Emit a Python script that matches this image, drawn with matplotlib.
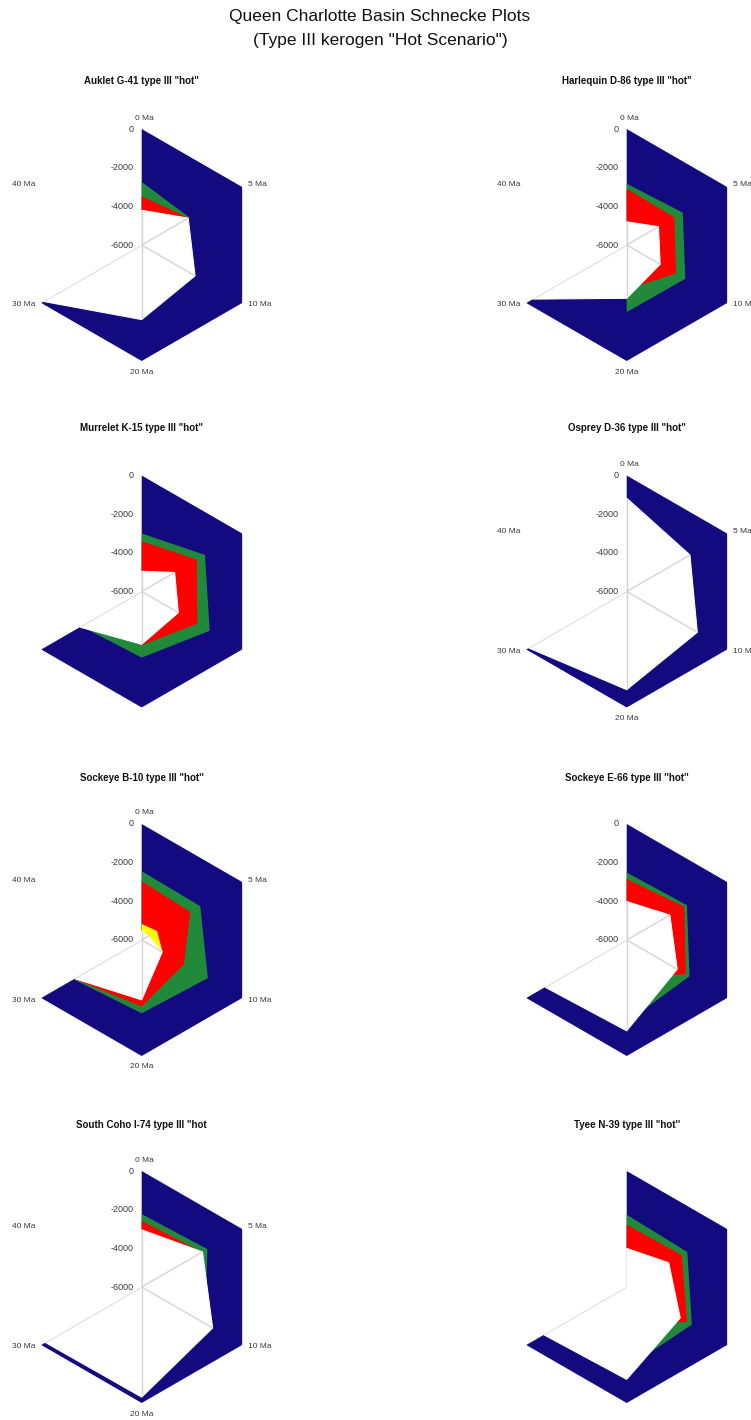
import matplotlib
matplotlib.use("Agg")
import matplotlib.pyplot as plt
import numpy as np

plt.rcParams["font.family"] = ["Liberation Sans", "DejaVu Sans"]

# ---------------------------------------------------------------- data
AGES = ["0 Ma", "5 Ma", "10 Ma", "20 Ma", "30 Ma", "40 Ma"]
DEPTH_TICKS = [0, -2000, -4000, -6000]
DEPTH_MIN, DEPTH_MAX = -6000, 0

TITLES = [
    'Auklet G-41 type III "hot"',
    'Harlequin D-86 type III "hot"',
    'Murrelet K-15 type III "hot"',
    'Osprey D-36 type III "hot"',
    "Sockeye B-10 type III \"hot''",
    "Sockeye E-66 type III ''hot''",
    'South Coho I-74 type III "hot',
    "Tyee N-39 type III \"hot''",
]

# depth (m) of each boundary at 0, 5, 10, 20, 30, 40 Ma
AUKLET_BLUE = [0, 0, 0, 0, 0, -6000]
AUKLET_GREEN = [-2740, -3150, -6000, -6000, -6000, -6000]
AUKLET_RED = [-3480, -3200, -6000, -6000, -6000, -6000]
AUKLET_WHITE = [-4200, -3220, -2810, -2140, -150, -6000]

HARLEQUIN_BLUE = [0, 0, 0, 0, 0, -6000]
HARLEQUIN_GREEN = [-2830, -2650, -2500, -2530, -6000, -6000]
HARLEQUIN_RED = [-3090, -3150, -3060, -3700, -6000, -6000]
HARLEQUIN_WHITE = [-4800, -4100, -4000, -3240, -400, -6000]

MURRELET_BLUE = [0, 0, 0, 0, 0, -6000]
MURRELET_GREEN = [-3000, -2220, -1940, -2580, -2400, -6000]
MURRELET_RED = [-3400, -2700, -2680, -3220, -6000, -6000]
MURRELET_WHITE = [-4950, -4030, -3810, -3266, -2310, -6000]

OSPREY_BLUE = [0, 0, 0, 0, 0, -6000]
OSPREY_WHITE = [-1170, -2220, -1780, -920, -150, -6000]

SOCKEYE_B10_BLUE = [0, 0, 0, 0, 0, -6000]
SOCKEYE_B10_GREEN = [-2440, -2500, -2050, -2210, -1930, -6000]
SOCKEYE_B10_RED = [-2960, -3100, -3480, -2560, -1970, -6000]
SOCKEYE_B10_YELLOW = [-5170, -5080, -4750, -6000, -6000, -6000]
SOCKEYE_B10_WHITE = [-5520, -5600, -4770, -2900, -2000, -6000]

SOCKEYE_E66_BLUE = [0, 0, 0, 0, 0, -6000]
SOCKEYE_E66_GREEN = [-2510, -2400, -2250, -1750, -6000, -6000]
SOCKEYE_E66_RED = [-2850, -2565, -2470, -4000, -6000, -6000]
SOCKEYE_E66_WHITE = [-4010, -3420, -2980, -1300, -1120, -6000]

SOUTH_COHO_BLUE = [0, 0, 0, 0, 0, -6000]
SOUTH_COHO_GREEN = [-2230, -2080, -2200, -6000, -6000, -6000]
SOUTH_COHO_RED = [-2580, -2400, -6000, -6000, -6000, -6000]
SOUTH_COHO_WHITE = [-3040, -2370, -1760, -300, -250, -6000]

TYEE_BLUE = [0, 0, 0, 0, 0, -6000]
TYEE_GREEN = [-2260, -2380, -2110, -1800, -6000, -6000]
TYEE_RED = [-2780, -2710, -2400, -4000, -6000, -6000]
TYEE_WHITE = [-4000, -3490, -2800, -1220, -1050, -6000]

WELLS = [
    {"blue": AUKLET_BLUE, "green": AUKLET_GREEN, "red": AUKLET_RED,
     "white": AUKLET_WHITE},
    {"blue": HARLEQUIN_BLUE, "green": HARLEQUIN_GREEN, "red": HARLEQUIN_RED,
     "white": HARLEQUIN_WHITE},
    {"blue": MURRELET_BLUE, "green": MURRELET_GREEN, "red": MURRELET_RED,
     "white": MURRELET_WHITE},
    {"blue": OSPREY_BLUE, "white": OSPREY_WHITE},
    {"blue": SOCKEYE_B10_BLUE, "green": SOCKEYE_B10_GREEN,
     "red": SOCKEYE_B10_RED, "yellow": SOCKEYE_B10_YELLOW,
     "white": SOCKEYE_B10_WHITE},
    {"blue": SOCKEYE_E66_BLUE, "green": SOCKEYE_E66_GREEN,
     "red": SOCKEYE_E66_RED, "white": SOCKEYE_E66_WHITE},
    {"blue": SOUTH_COHO_BLUE, "green": SOUTH_COHO_GREEN,
     "red": SOUTH_COHO_RED, "white": SOUTH_COHO_WHITE},
    {"blue": TYEE_BLUE, "green": TYEE_GREEN, "red": TYEE_RED,
     "white": TYEE_WHITE},
]

# ---------------------------------------------------------------- style
LAYER_ORDER = ["blue", "green", "red", "yellow", "white"]
LAYER_COLORS = {
    "blue": "#140a80",
    "green": "#21893a",
    "red": "#ff0000",
    "yellow": "#ffff00",
    "white": "#ffffff",
}
SPOKE_COLOR = "#d4d4d4"
LABEL_COLOR = "#3a3a3a"

FIG_W, FIG_H = 751, 1420
RADIUS = 116.0
COL_X = [141.7, 626.7]
ROW_Y = [245.0, 591.5, 940.0, 1287.0]
TITLE_BASELINE = [84, 431, 781, 1128]

SHOW_TICKS = [True, True, True, True, True, True, True, False]
SHOW_AGES = [True, True, False, True, True, False, True, False]
SPOKES = [range(5)] * 7 + [[4]]

# offsets (pixels) and alignment of the age labels around the rim
AGE_LABEL_POS = [
    ((3, 11), "center", "center"),
    ((6, 2), "left", "center"),
    ((6, -2), "left", "center"),
    ((0, -11), "center", "center"),
    ((-6, -2), "right", "center"),
    ((-6, 2), "right", "center"),
]

theta = np.deg2rad(np.arange(len(AGES)) * 60.0)

fig = plt.figure(figsize=(FIG_W / 100, FIG_H / 100), dpi=100)
fig.patch.set_facecolor("white")

fig.text(380 / FIG_W, 1 - 21 / FIG_H, "Queen Charlotte Basin Schnecke Plots",
         ha="center", va="baseline", fontsize=12.5, color="#111111")
fig.text(380 / FIG_W, 1 - 45 / FIG_H, '(Type III kerogen "Hot Scenario")',
         ha="center", va="baseline", fontsize=12.5, color="#111111")

for i, (title, series) in enumerate(zip(TITLES, WELLS)):
    row, col = divmod(i, 2)
    cx, cy = COL_X[col], ROW_Y[row]
    ax = fig.add_axes([(cx - RADIUS) / FIG_W, (FIG_H - cy - RADIUS) / FIG_H,
                       2 * RADIUS / FIG_W, 2 * RADIUS / FIG_H],
                      projection="polar")
    ax.set_theta_zero_location("N")
    ax.set_theta_direction(-1)
    ax.set_ylim(DEPTH_MIN, DEPTH_MAX)
    ax.set_axis_off()

    patches = {}
    for z, key in enumerate(LAYER_ORDER):
        if key not in series:
            continue
        edge = 0.7 if key == "white" else 0
        poly = ax.fill(theta, series[key], facecolor=LAYER_COLORS[key],
                       edgecolor=LAYER_COLORS[key], lw=edge, zorder=2 + z)
        patches[key] = poly[0]

    # category spokes show through the inner (white) area only
    for k in SPOKES[i]:
        line, = ax.plot([theta[k], theta[k]], [DEPTH_MIN, DEPTH_MAX],
                        color=SPOKE_COLOR, lw=1.0, zorder=20,
                        solid_capstyle="butt")
        line.set_clip_path(patches["white"])

    if SHOW_TICKS[i]:
        for v in DEPTH_TICKS:
            ax.annotate(f"{v}", xy=(theta[0], v), xytext=(-8, 0),
                        textcoords="offset pixels", ha="right", va="center",
                        fontsize=6.5, color=LABEL_COLOR, annotation_clip=False)

    if SHOW_AGES[i]:
        for k, age in enumerate(AGES):
            off, ha, va = AGE_LABEL_POS[k]
            ax.annotate(age, xy=(theta[k], DEPTH_MAX), xytext=off,
                        textcoords="offset pixels", ha=ha, va=va,
                        fontsize=6, color=LABEL_COLOR, annotation_clip=False)

    fig.text(cx / FIG_W, 1 - TITLE_BASELINE[row] / FIG_H, title,
             ha="center", va="baseline", fontsize=7, fontweight="bold",
             color="#111111")

fig.savefig("out.png", dpi=100, facecolor="white")
